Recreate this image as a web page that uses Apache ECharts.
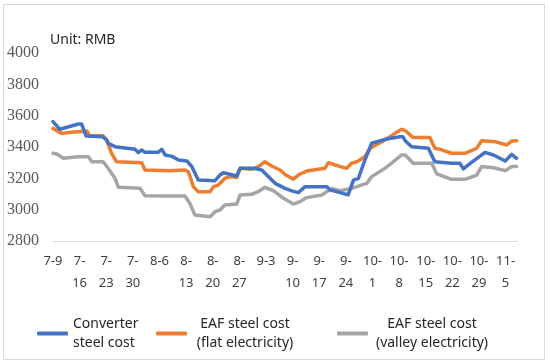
<!DOCTYPE html>
<html>
<head>
<meta charset="utf-8">
<script src="https://cdn.jsdelivr.net/npm/echarts@6/dist/echarts.min.js"></script>
<style>html,body{margin:0;padding:0;background:#fff}#c{width:550px;height:362px}</style>
</head>
<body>
<div id="c"></div>
<script>
// Tick labels (weekly dates), x = days since 7-9
const tickLabels = ["7-9","7-16","7-23","7-30","8-6","8-13","8-20","8-27","9-3","9-10","9-17","9-24","10-1","10-8","10-15","10-22","10-29","11-5"];
const yTicks = [2800, 3000, 3200, 3400, 3600, 3800, 4000];
const seriesNames = ["Converter steel cost", "EAF steel cost (flat electricity)", "EAF steel cost (valley electricity)"];

// Converter steel cost
const converterDays = [0,1.8,6.7,7.5,8.7,13.1,14.1,14.5,16.3,21.6,22.4,23.3,24.2,27.6,28.6,29.5,31.3,33,35.2,36.5,38.2,42.6,43.9,44.8,48.3,49.2,52.7,54.9,56.2,58.4,61,62.8,64.5,66.3,72,72.8,75.5,77.6,79,80.3,82,83.8,87.3,91.2,92,92.6,94.3,98.7,100.4,104.8,107,107.9,109.7,113.6,115.8,118.9,120.6,121.9];
const converterVals = [3562,3513,3547,3547,3470,3465,3445,3424,3402,3385,3364,3381,3366,3366,3385,3349,3340,3317,3311,3275,3189,3185,3221,3236,3215,3264,3264,3253,3221,3168,3136,3120,3109,3147,3147,3126,3109,3094,3189,3200,3317,3424,3449,3466,3466,3440,3402,3392,3306,3296,3296,3260,3296,3366,3349,3311,3353,3328];

// EAF steel cost (flat electricity)
const flatDays = [0,2.3,4.9,8.9,9.7,13.1,14.1,15.4,16.7,23.3,24.2,30.8,34.7,35.6,36.9,38.2,41.3,42.2,43.5,45.2,46.5,48.3,49.2,52.2,54,55.7,57.5,59.7,61,63.2,64.5,66.7,71.5,72.4,74.2,77.2,78.5,79.9,82,83.4,87.3,89.9,91.7,92.6,94.7,99.1,100.4,101.8,104.8,108.3,111.4,112.7,116.2,119.3,120.6,121.9];
const flatVals = [3519,3487,3494,3502,3472,3472,3445,3360,3306,3300,3253,3249,3253,3242,3147,3115,3115,3147,3157,3200,3211,3206,3264,3258,3275,3306,3279,3253,3225,3195,3221,3247,3264,3300,3285,3264,3296,3306,3338,3392,3445,3487,3513,3505,3460,3460,3392,3385,3360,3360,3392,3440,3434,3413,3438,3440];

// EAF steel cost (valley electricity)
const valleyDays = [0,1,2.7,6.7,9.3,10.2,13.2,14.5,16.3,17.2,22.9,24.2,30.8,34.7,36,37.3,41.3,42.6,43.9,45.2,48.3,49.2,52.2,54,55.7,57.9,60.6,63.2,64.9,66.7,70.7,73.3,75.5,78.5,82.5,83.8,87.3,91.7,92.6,94.7,99.6,100.9,104.8,108.3,111.4,112.7,115.8,118.9,120.6,121.9];
const valleyVals = [3360,3355,3328,3338,3338,3306,3306,3264,3200,3143,3136,3089,3087,3087,3040,2966,2955,2987,2998,3030,3036,3094,3098,3115,3143,3121,3073,3036,3051,3077,3094,3136,3121,3136,3168,3211,3264,3349,3349,3296,3296,3228,3194,3194,3221,3275,3268,3249,3275,3275];

function pairs(d, v) { return d.map((x, i) => [x, v[i]]); }

const chart = echarts.init(document.getElementById('c'), null, {renderer: 'canvas'});
const sans = '"Noto Sans", "DejaVu Sans", sans-serif';
const colors = ['#4472C4', '#ED7D31', '#A5A5A5'];

function legendFor(i, left, width) {
  return {
    data: [seriesNames[i]],
    left: left, top: 312,
    itemWidth: 31, itemHeight: 4, icon: 'roundRect',
    itemGap: 10,
    formatter: function (n) {
      const parts = n.indexOf('(') > 0 ? [n.slice(0, n.indexOf('(') - 1), n.slice(n.indexOf('('))] : ['Converter', 'steel cost'];
      return '{t|' + parts[0] + '}\n{t|' + parts[1] + '}';
    },
    textStyle: {
      rich: { t: { fontFamily: sans, fontSize: 14, color: '#262626', lineHeight: 19, width: width, align: i === 0 ? 'left' : 'center' } }
    },
    selectedMode: false
  };
}

chart.setOption({
  animation: false,
  color: colors,
  title: {
    text: 'Unit: RMB', left: 45, top: 28,
    textStyle: { fontFamily: sans, fontSize: 14, fontWeight: 'normal', color: '#262626' }
  },
  graphic: [{
    type: 'rect', shape: { x: 3.5, y: 4.5, width: 541, height: 355 },
    style: { fill: 'none', stroke: '#D9D9D9', lineWidth: 1 }, silent: true
  }],
  legend: [legendFor(0, 32, 68), legendFor(1, 151, 106), legendFor(2, 332, 118)],
  grid: { left: 53, right: 33, top: 53, bottom: 121, containLabel: false },
  xAxis: {
    type: 'value', min: 0, max: 122, interval: 7,
    axisLine: { show: true, lineStyle: { color: '#D9D9D9', width: 1 } },
    axisTick: { show: false },
    splitLine: { show: false },
    axisLabel: {
      showMaxLabel: false,
      margin: 9,
      fontFamily: sans, fontSize: 13, color: '#404040', lineHeight: 22,
      formatter: function (v) {
        const idx = Math.round(v / 7);
        if (Math.abs(v - idx * 7) > 0.01 || idx >= tickLabels.length) return '';
        const s = tickLabels[idx];
        return s.length > 3 ? s.replace('-', '-\n') : s;
      }
    }
  },
  yAxis: {
    type: 'value', min: yTicks[0], max: yTicks[yTicks.length - 1], interval: 200,
    axisLine: { show: false }, axisTick: { show: false },
    splitLine: { show: false },
    axisLabel: {
      margin: 14, fontFamily: '"Liberation Serif", serif', fontSize: 16, color: '#595959',
      formatter: function (v) { return String(v); }
    }
  },
  series: [
    { name: seriesNames[0], data: pairs(converterDays, converterVals) },
    { name: seriesNames[1], data: pairs(flatDays, flatVals) },
    { name: seriesNames[2], data: pairs(valleyDays, valleyVals) }
  ].map((s, i) => Object.assign({
    type: 'line', showSymbol: false, symbol: 'none', z: 3 - i,
    lineStyle: { width: 3.5, color: colors[i], cap: 'round', join: 'round' },
    itemStyle: { color: colors[i] }
  }, s))
});
</script>
</body>
</html>
